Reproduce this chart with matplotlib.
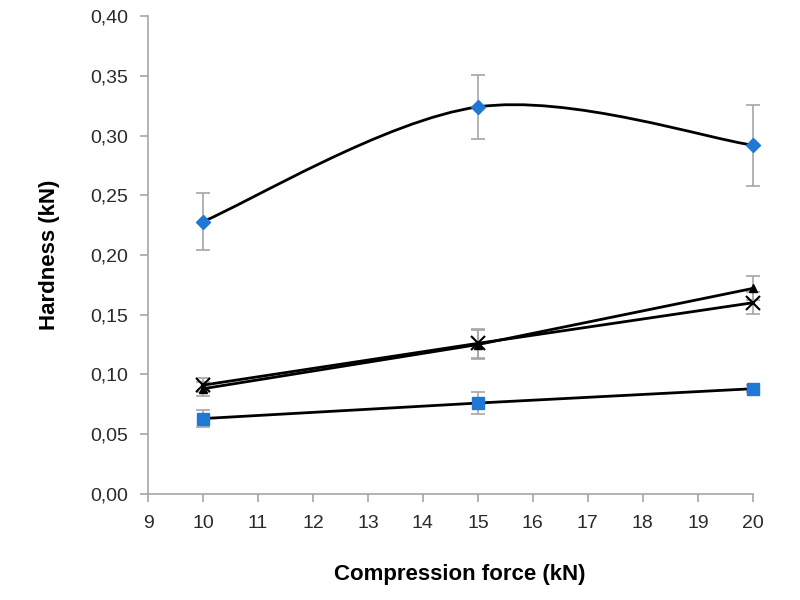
import matplotlib
matplotlib.use("Agg")
from matplotlib import pyplot as plt
from matplotlib.path import Path
from matplotlib.patches import PathPatch
from matplotlib.ticker import FuncFormatter
import numpy as np

force = [10, 15, 20]

diamond = [0.228, 0.324, 0.292]
diamond_err = [0.024, 0.027, 0.034]

triangle = [0.088, 0.125, 0.172]
triangle_err = [0.006, 0.012, 0.010]

cross = [0.091, 0.126, 0.160]
cross_err = [0.006, 0.012, 0.009]

square = [0.063, 0.076, 0.088]
square_err = [0.007, 0.009, 0.003]

BLUE = '#1f78d6'
GREY = '#a6a6a6'

plt.rcParams['font.family'] = ['Liberation Sans', 'DejaVu Sans']

fig = plt.figure(figsize=(8, 6), dpi=100)
ax = fig.add_axes([0.185, 0.177, 0.756, 0.796])


def smooth_path(xs, ys):
    # Excel-style smoothed line: cubic bezier segments through the points
    pts = np.column_stack([xs, ys]).astype(float)
    verts = [pts[0]]
    codes = [Path.MOVETO]
    n = len(pts)
    for i in range(n - 1):
        p_prev = pts[i - 1] if i > 0 else pts[i]
        p_next = pts[i + 2] if i + 2 < n else pts[i + 1]
        c1 = pts[i] + (pts[i + 1] - p_prev) / 6
        c2 = pts[i + 1] - (p_next - pts[i]) / 6
        verts += [c1, c2, pts[i + 1]]
        codes += [Path.CURVE4] * 3
    return Path(verts, codes)


ax.add_patch(PathPatch(smooth_path(force, diamond), fill=False, edgecolor='black', lw=2, zorder=2, clip_on=False))

ax.plot(force, triangle, color='black', lw=2, zorder=2, clip_on=False)
ax.plot(force, cross, color='black', lw=2, zorder=2, clip_on=False)
ax.plot(force, square, color='black', lw=2, zorder=2, clip_on=False)

ekw = dict(fmt='none', ecolor=GREY, elinewidth=1.2, capsize=5, capthick=1.2, zorder=1)
for vals, errs in [(diamond, diamond_err), (triangle, triangle_err), (cross, cross_err), (square, square_err)]:
    eb = ax.errorbar(force, vals, yerr=errs, **ekw)
    for art in eb.lines[1] + eb.lines[2]:
        art.set_clip_on(False)

ax.plot(force, diamond, linestyle='none', marker='D', ms=7, color=BLUE, zorder=3, clip_on=False)
ax.plot(force, triangle, linestyle='none', marker='^', ms=6, color='black', zorder=3, clip_on=False)
ax.plot(force, cross, linestyle='none', marker='x', ms=10, mew=1.5, color='black', zorder=3, clip_on=False)
ax.plot(force, square, linestyle='none', marker='s', ms=9, color=BLUE, zorder=3, clip_on=False)

ax.set_xlim(9, 20)
ax.set_ylim(0, 0.40)
ax.set_xticks(range(9, 21))
ax.set_yticks(np.arange(0, 0.401, 0.05))
ax.yaxis.set_major_formatter(FuncFormatter(lambda v, p: f'{v:.2f}'.replace('.', ',')))

for s in ['top', 'right']:
    ax.spines[s].set_visible(False)
for s in ['left', 'bottom']:
    ax.spines[s].set_color(GREY)
    ax.spines[s].set_linewidth(1.2)
ax.tick_params(direction='out', length=6, width=1.2, color=GREY, labelsize=14, labelcolor='#2a2a2a')
ax.tick_params(axis='x', pad=9)
ax.tick_params(axis='y', pad=8)

ax.set_xlabel('Compression force (kN)', fontsize=16, fontweight='bold')
ax.xaxis.set_label_coords(0.515, -0.148)
ax.set_ylabel('Hardness (kN)', fontsize=16, fontweight='bold', labelpad=22)

plt.savefig('out.png', dpi=100)
